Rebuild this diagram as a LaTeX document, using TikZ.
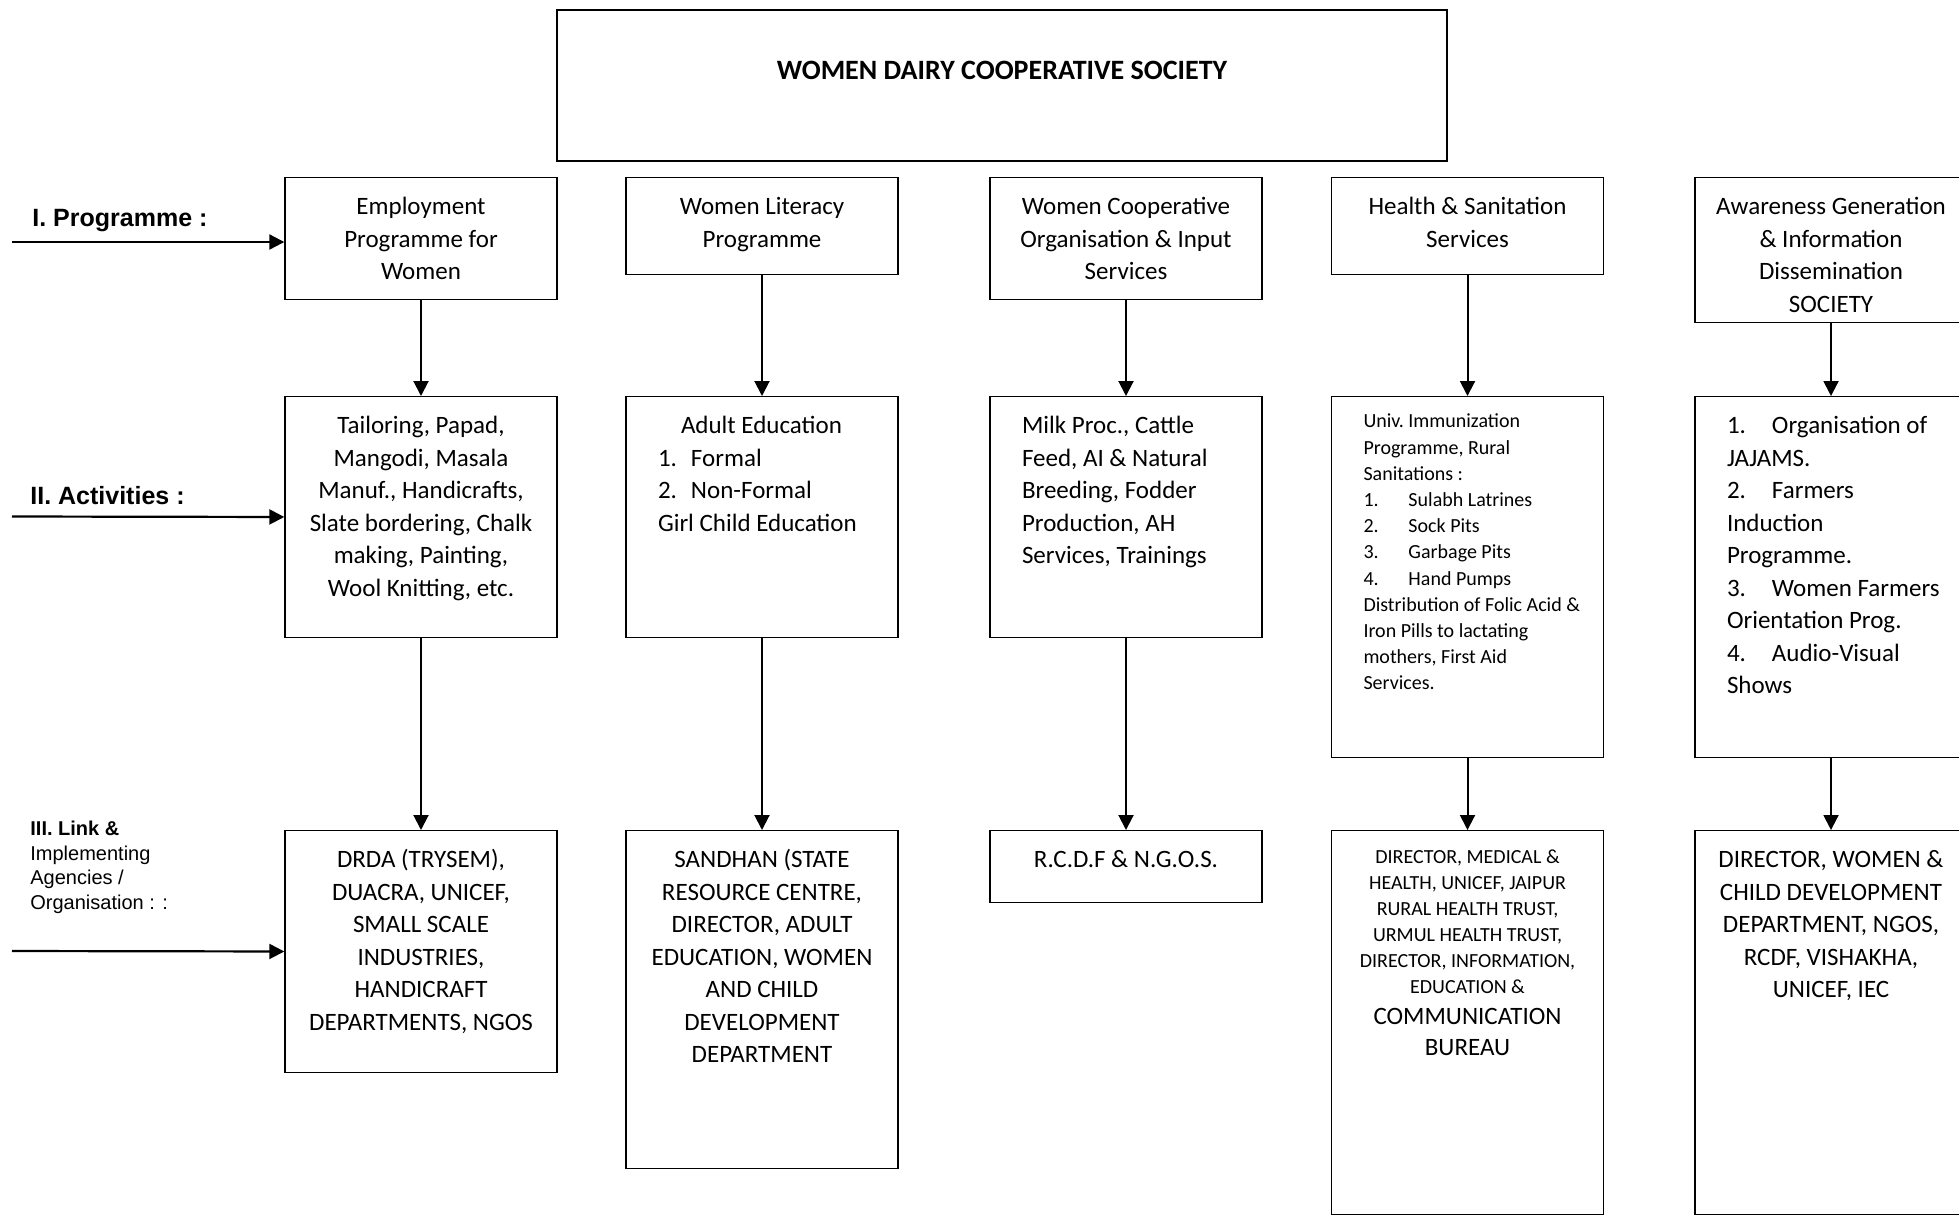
\documentclass[tikz,border=0pt]{standalone}
\usepackage{fontspec}
\setmainfont{Carlito}
\newfontfamily\arialfont{Liberation Sans}
\usetikzlibrary{arrows.meta}
\newcommand{\numitem}[1]{\makebox[22.5pt][l]{#1}}

\begin{document}
\begin{tikzpicture}[x=0.5pt, y=-0.5pt, >={Triangle[length=7.5pt,width=7.5pt]}]
    \tikzstyle{head} = [draw, line width=0.9pt, anchor=north, minimum width=445pt, inner sep=0pt, text height=35pt, text depth=40.5pt, font=\fontsize{14}{16}\selectfont\bfseries]
    \tikzstyle{cbox} = [draw, line width=0.7pt, anchor=north, text width=128pt, inner xsep=4pt, inner ysep=0pt, align=flush center, text height=18.5pt, font=\fontsize{12.5}{16.25}\selectfont]
    \tikzstyle{lbox} = [cbox, align=flush left, execute at begin node={\leftskip=12pt\relax}]
    \tikzstyle{lab} = [inner sep=0pt, font=\arialfont\fontsize{12.5}{15}\selectfont\bfseries]
    \tikzstyle{link} = [line width=1pt]
    \tikzstyle{feed} = [->, line width=1.1pt]

    \useasboundingbox (0,0) rectangle (1959,1217);

    \node (wdcs) [head] at (1002,9) {WOMEN DAIRY COOPERATIVE SOCIETY};

    % I. programmes
    \node (p1) [cbox, text depth=42.5pt] at (421,177)  {Employment\\Programme for\\Women};
    \node (p2) [cbox, text depth=30pt]   at (762,177)  {Women Literacy\\Programme};
    \node (p3) [cbox, text depth=42.5pt] at (1126,177) {Women Cooperative\\Organisation \& Input\\Services};
    \node (p4) [cbox, text depth=30pt]   at (1467.5,177) {Health \& Sanitation\\Services};
    \node (p5) [cbox, text depth=54pt]   at (1831,177) {Awareness Generation\\\& Information\\Dissemination\\SOCIETY};

    % II. activities
    \node (a1) [cbox, text depth=102pt] at (421,396) {Tailoring, Papad,\\Mangodi, Masala\\Manuf., Handicrafts,\\Slate bordering, Chalk\\making, Painting,\\Wool Knitting, etc.} edge [link, <-] (p1);
    \node (a2) [lbox, text depth=102pt] at (762,396) {\hspace*{11.5pt}Adult Education\\\makebox[16.5pt][l]{1.}Formal\\\makebox[16.5pt][l]{2.}Non-Formal\\Girl Child Education} edge [link, <-] (p2);
    \node (a3) [lbox, text depth=102pt] at (1126,396) {Milk Proc., Cattle\\Feed, AI \& Natural\\Breeding, Fodder\\Production, AH\\Services, Trainings} edge [link, <-] (p3);
    \node (a4) [lbox, text height=15.6pt, text depth=164.9pt] at (1467.5,396) {\fontsize{10}{13.1}\selectfont Univ.\ Immunization\\Programme, Rural\\Sanitations :\\\numitem{1.}Sulabh Latrines\\\numitem{2.}Sock Pits\\\numitem{3.}Garbage Pits\\\numitem{4.}Hand Pumps\\Distribution of Folic Acid \&\\Iron Pills to lactating\\mothers, First Aid\\Services.\par} edge [link, <-] (p4);
    \node (a5) [lbox, text depth=162pt] at (1831,396) {\numitem{1.}Organisation of\\JAJAMS.\\\numitem{2.}Farmers\\Induction\\Programme.\\\numitem{3.}Women Farmers\\Orientation Prog.\\\numitem{4.}Audio-Visual\\Shows} edge [link, <-] (p5);

    % III. link & implementing agencies
    \node (l1) [cbox, text depth=102.5pt] at (421,830) {DRDA (TRYSEM),\\DUACRA, UNICEF,\\SMALL SCALE\\INDUSTRIES,\\HANDICRAFT\\DEPARTMENTS, NGOS} edge [link, <-] (a1);
    \node (l2) [cbox, text depth=150.5pt] at (762,830) {SANDHAN (STATE\\RESOURCE CENTRE,\\DIRECTOR, ADULT\\EDUCATION, WOMEN\\AND CHILD\\DEVELOPMENT\\DEPARTMENT} edge [link, <-] (a2);
    \node (l3) [cbox, text depth=17.5pt] at (1126,830) {R.C.D.F \& N.G.O.S.} edge [link, <-] (a3);
    \node (l4) [cbox, text height=16.6pt, text depth=175.4pt] at (1467.5,830) {\fontsize{10}{13}\selectfont DIRECTOR, MEDICAL \&\\HEALTH, UNICEF, JAIPUR\\RURAL HEALTH TRUST,\\URMUL HEALTH TRUST,\\DIRECTOR, INFORMATION,\\EDUCATION \&\\\fontsize{12.5}{15.5}\selectfont COMMUNICATION\\BUREAU\par} edge [link, <-] (a4);
    \node (l5) [cbox, text depth=173.5pt] at (1831,830) {DIRECTOR, WOMEN \&\\CHILD DEVELOPMENT\\DEPARTMENT, NGOS,\\RCDF, VISHAKHA,\\UNICEF, IEC} edge [link, <-] (a5);

    % row labels
    \node (lab1) [lab, anchor=base west] at (32,226) {I. Programme :};
    \node (lab2) [lab, anchor=base west] at (30,504) {II. Activities :};
    \node (lab3) [lab, anchor=north west, text width=80pt, align=flush left, text height=7.2pt, font=\arialfont\fontsize{10}{12.25}\selectfont] at (30,821) {\textbf{III. Link \&}\\Implementing\\Agencies /\\Organisation : :};

    \coordinate (in1) at (12,242);
    \coordinate (in2) at (12,516.5);
    \coordinate (in3) at (12,951);
    \draw [feed] (in1) -- (in1 -| p1.west);
    \draw [feed] (in2) -- (a1);
    \draw [feed] (in3) -- (l1);
\end{tikzpicture}
\end{document}
